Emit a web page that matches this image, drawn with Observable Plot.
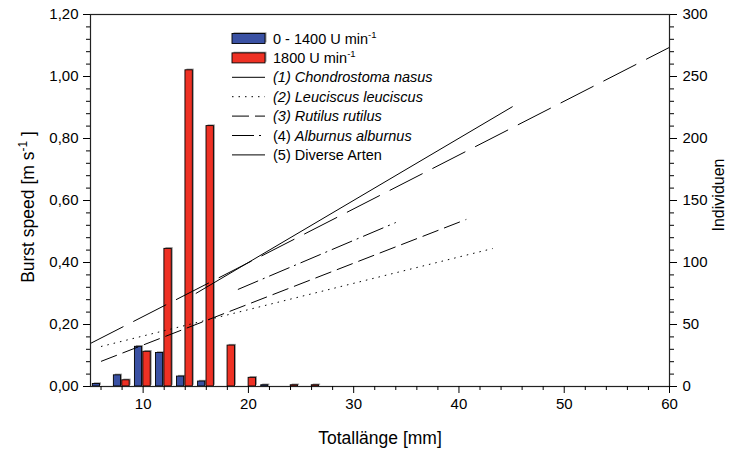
<!DOCTYPE html>
<html><head><meta charset="utf-8">
<script src="https://cdn.jsdelivr.net/npm/d3@7"></script>
<script src="https://cdn.jsdelivr.net/npm/@observablehq/plot@0.6"></script>
<style>
body{margin:0;background:#fff;}
svg{font-family:"Liberation Sans",Arial,sans-serif;}
</style>
</head><body><div id="chart"></div>
<script>
// ---- data ----
const bins = [6, 8, 10, 12, 14, 16, 18, 20, 22, 24, 26];           // Totallänge [mm]
const countsLow  = [2, 9, 32, 27, 8, 4, 0, 0, 1, 0, 0];            // 0 - 1400 U min-1
const countsHigh = [0, 5, 28, 111, 255, 210, 33, 7, 0, 1, 1];      // 1800 U min-1
const seriesNames = ["0 - 1400 U min", "1800 U min"];
const seriesColors = ["#3a51a3", "#ee3124"];

const lineNames = ["(1) Chondrostoma nasus", "(2) Leuciscus leuciscus", "(3) Rutilus rutilus", "(4) Alburnus alburnus", "(5) Diverse Arten"];
const lineItalic = [true, true, true, true, false];
const lineStartX = [5, 6, 6, 19, 15];
const lineEndX   = [60, 43.2, 40.7, 34, 45.1];
const lineStartY = [0.139, 0.129, 0.081, 0.313, 0.30];
const lineEndY   = [1.094, 0.445, 0.539, 0.529, 0.903];
const lineDash   = ["37,11", "1.5,5", "17,6", "22,5,2,5", null];

const xMajorTicks = [10, 20, 30, 40, 50, 60];
const yLeftTicks  = [0, 0.2, 0.4, 0.6, 0.8, 1.0, 1.2];
const yRightTicks = [0, 50, 100, 150, 200, 250, 300];

// ---- derived ----
const countMax = 300, speedMax = 1.2;
const toSpeed = c => c * speedMax / countMax;
const xMinorTicks = d3.range(6, 60, 2).filter(v => v % 10 !== 0);
const yLeftMinor = d3.range(0, 1.2001, 0.04).filter(v => Math.abs(v * 5 - Math.round(v * 5)) > 1e-6);
const yRightMinor = d3.range(0, 301, 10).filter(v => v % 50 !== 0);

const bars = [];
bins.forEach((b, i) => {
  if (countsLow[i] > 0) bars.push({x1: b - 0.78, x2: b - 0.1, y1: 0, y2: toSpeed(countsLow[i]), s: 0});
  if (countsHigh[i] > 0) bars.push({x1: b + 0.02, x2: b + 0.72, y1: 0, y2: toSpeed(countsHigh[i]), s: 1});
});
const lines = lineNames.map((n, i) => ({name: n, x1: lineStartX[i], x2: lineEndX[i], y1: lineStartY[i], y2: lineEndY[i], i}));

const comma = d => d.toFixed(2).replace(".", ",");
const fs = 15;

const svg = Plot.plot({
  width: 741, height: 452,
  marginLeft: 90, marginRight: 72, marginTop: 14, marginBottom: 66,
  style: {fontFamily: "Liberation Sans, Arial, sans-serif", fontSize: fs + "px", color: "black", background: "white"},
  x: {domain: [5, 60]},
  y: {domain: [0, 1.2]},
  marks: [
    Plot.rect(bars, {x1: "x1", x2: "x2", y1: "y1", y2: "y2", fill: "#9a9a9a", dx: 1.5, dy: -1.2}),
    Plot.rect(bars, {x1: "x1", x2: "x2", y1: "y1", y2: "y2", fill: d => seriesColors[d.s], stroke: "black", strokeWidth: 0.9}),
    ...lines.map(l => Plot.link([l], {x1: "x1", y1: "y1", x2: "x2", y2: "y2", stroke: "black", strokeWidth: 1, strokeDasharray: lineDash[l.i]})),
    Plot.frame({stroke: "#222", strokeWidth: 1.2}),
    Plot.axisX(xMajorTicks, {tickSize: 7, tickPadding: 5, fontSize: fs, label: null, tickFormat: d => String(d)}),
    Plot.axisX(xMinorTicks, {tickSize: 4, label: null, tickFormat: () => ""}),
    Plot.axisY(yLeftTicks, {anchor: "left", tickSize: 7, tickPadding: 5, fontSize: fs, label: null, tickFormat: comma}),
    Plot.axisY(yLeftMinor, {anchor: "left", tickSize: 4, label: null, tickFormat: () => ""}),
    Plot.axisY(yRightTicks.map(toSpeed), {anchor: "right", tickSize: 7, tickPadding: 6, fontSize: fs, label: null, tickFormat: d => String(Math.round(d * countMax / speedMax))}),
    Plot.axisY(yRightMinor.map(toSpeed), {anchor: "right", tickSize: 4, label: null, tickFormat: () => ""})
  ]
});
document.getElementById("chart").appendChild(svg);

// ---- labels & legend ----
const s = d3.select(svg);
const ff = "Liberation Sans, Arial, sans-serif";
s.append("text").attr("x", 380).attr("y", 444).attr("text-anchor", "middle")
  .attr("font-family", ff).attr("font-size", 17.5).attr("fill", "black").text("Totallänge [mm]");

const yl = s.append("text").attr("transform", "translate(34,207) rotate(-90)").attr("text-anchor", "middle")
  .attr("font-family", ff).attr("font-size", 17.5).attr("fill", "black");
yl.append("tspan").text("Burst speed [m s");
yl.append("tspan").attr("dy", -7).attr("font-size", 12).text("-1");
yl.append("tspan").attr("dy", 7).text(" ]");

s.append("text").attr("transform", "translate(724,195) rotate(-90)").attr("text-anchor", "middle")
  .attr("font-family", ff).attr("font-size", 16).attr("fill", "black").text("Individuen");

const lg = s.append("g").attr("font-family", ff).attr("font-size", 14.5).attr("fill", "black").attr("text-anchor", "start");
const rowY = i => 38.5 + i * 19.4;
const sx0 = 232, sx1 = 265, tx = 273;
seriesNames.forEach((n, i) => {
  lg.append("rect").attr("x", sx0 + 1.5).attr("y", rowY(i) - 6.2).attr("width", sx1 - sx0).attr("height", 10).attr("fill", "#9a9a9a");
  lg.append("rect").attr("x", sx0).attr("y", rowY(i) - 5).attr("width", sx1 - sx0).attr("height", 10)
    .attr("fill", seriesColors[i]).attr("stroke", "black").attr("stroke-width", 0.9);
  const t = lg.append("text").attr("x", tx).attr("y", rowY(i) + 5);
  t.append("tspan").text(n);
  t.append("tspan").attr("dy", -6).attr("font-size", 9.5).text("-1");
});
lineNames.forEach((n, i) => {
  const y = rowY(i + 2);
  const ln = lg.append("line").attr("x1", sx0).attr("x2", sx1).attr("y1", y).attr("y2", y)
    .attr("stroke", "black").attr("stroke-width", 1);
  if (lineDash[i]) ln.attr("stroke-dasharray", lineDash[i]);
  const t = lg.append("text").attr("x", tx).attr("y", y + 5);
  if (lineItalic[i]) {
    const m = n.match(/^(\(\d\) )(.*)$/);
    if (i === 3) { t.append("tspan").text(m[1]); t.append("tspan").attr("font-style", "italic").text(m[2]); }
    else t.attr("font-style", "italic").text(n);
  } else t.text(n);
});
</script>
</body></html>
